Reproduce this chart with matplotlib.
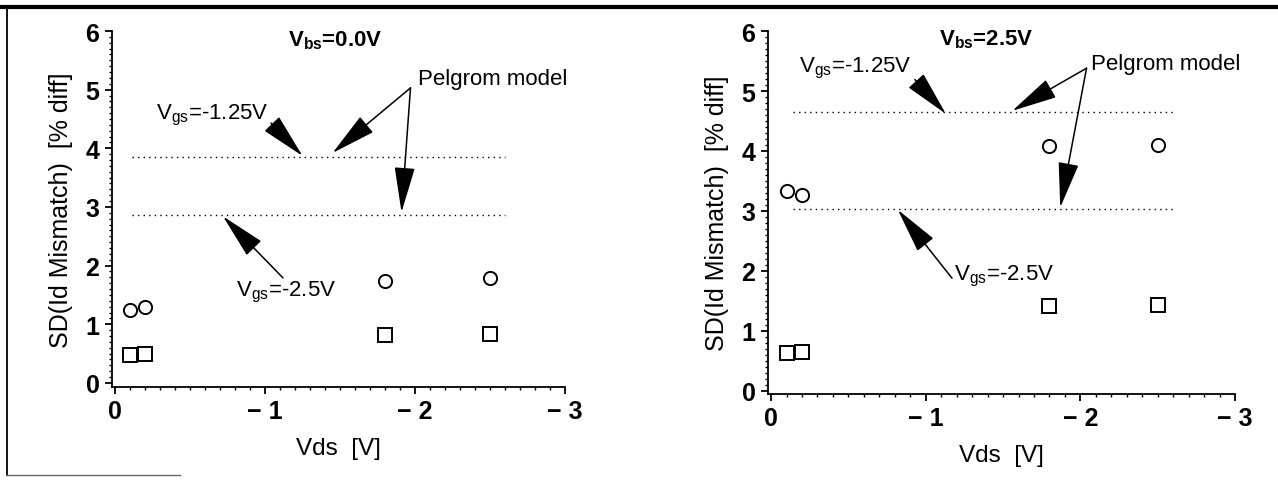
import numpy as np
import matplotlib.pyplot as plt
from matplotlib.lines import Line2D
from matplotlib.ticker import MultipleLocator

plt.rcParams['font.family'] = ['Liberation Sans', 'DejaVu Sans']
plt.rcParams['mathtext.fontset'] = 'custom'
plt.rcParams['mathtext.rm'] = 'Liberation Sans'
plt.rcParams['mathtext.bf'] = 'Liberation Sans:bold'

# Input data
vds = [-0.1, -0.2, -1.8, -2.5]

# Vbs = 0.0 V
circ_0 = [1.25, 1.30, 1.74, 1.78]
sq_0 = [0.47, 0.49, 0.82, 0.83]
pelgrom_0 = [3.85, 2.87]        # Vgs=-1.25V, Vgs=-2.5V
line_x_0 = [-0.11, -2.60]

# Vbs = 2.5 V
circ_25 = [3.33, 3.26, 4.08, 4.10]
sq_25 = [0.64, 0.65, 1.42, 1.44]
pelgrom_25 = [4.65, 3.03]
line_x_25 = [-0.14, -2.61]

panels = [
    dict(rect=[112/1278, 93/481, 453/1278, 356/481], ylim=(-0.07, 6.0),
         circ=circ_0, sq=sq_0, lines=pelgrom_0, lx=line_x_0,
         title='$\\mathbf{V_{bs}}$=0.0V', title_xy=(-1.47, 5.85),
         pel_xy=(-2.02, 5.19), pel_from=(-1.97, 5.03),
         pel_to=[(-1.45, 3.92), (-1.91, 2.91)],
         v1_xy=(-0.27, 4.57), v1_arrow=((-1.04, 4.43), (-1.25, 3.87)),
         v2_xy=(-0.81, 1.56), v2_arrow=((-1.12, 1.79), (-0.72, 2.84))),
    dict(rect=[768/1278, 86/481, 467/1278, 363/481], ylim=(-0.05, 6.0),
         circ=circ_25, sq=sq_25, lines=pelgrom_25, lx=line_x_25,
         title='$\\mathbf{V_{bs}}$=2.5V', title_xy=(-1.39, 5.87),
         pel_xy=(-2.07, 5.46), pel_from=(-2.04, 5.38),
         pel_to=[(-1.56, 4.67), (-1.87, 3.06)],
         v1_xy=(-0.18, 5.40), v1_arrow=((-0.93, 5.19), (-1.13, 4.62)),
         v2_xy=(-1.18, 1.93), v2_arrow=((-1.17, 1.88), (-0.82, 3.02))),
]

fig = plt.figure(figsize=(12.78, 4.81), dpi=100)

arrow = dict(arrowstyle='-|>,head_length=1.6,head_width=0.36', color='black',
             lw=1.1, mutation_scale=18, shrinkA=0, shrinkB=0)

for p in panels:
    ax = fig.add_axes(p['rect'])
    ax.plot(vds, p['circ'], 'o', ms=9.5, mfc='none', mec='black', mew=1.4)
    ax.plot(vds, p['sq'], 's', ms=9.5, mfc='none', mec='black', mew=1.4)
    for yv in p['lines']:
        ax.plot(p['lx'], [yv, yv], color='black', ls=(0, (1, 3)), lw=1.0)

    ax.set_xlim(0.02, -3.0)
    ax.set_ylim(*p['ylim'])
    ax.spines['top'].set_visible(False)
    ax.spines['right'].set_visible(False)
    ax.spines['left'].set_linewidth(1.3)
    ax.spines['bottom'].set_linewidth(1.3)
    ax.xaxis.set_major_locator(MultipleLocator(1))
    ax.xaxis.set_minor_locator(MultipleLocator(0.1))
    ax.yaxis.set_major_locator(MultipleLocator(1))
    ax.yaxis.set_minor_locator(MultipleLocator(0.1))
    ax.tick_params(which='major', direction='out', length=5, width=1.3,
                   labelsize=18, pad=4)
    ax.tick_params(which='minor', direction='out', length=2.5, width=1.0)
    ax.set_xticks([0, -1, -2, -3])
    ax.set_xticklabels(['0', '\u2212 1', '\u2212 2', '\u2212 3'])
    for lab in ax.get_xticklabels() + ax.get_yticklabels():
        lab.set_fontweight('bold')
    ax.set_xlabel('Vds  [V]', fontsize=17.5, labelpad=10)
    ax.set_ylabel('SD(Id Mismatch)  [% diff]', fontsize=18, labelpad=9)

    ax.text(*p['title_xy'], p['title'], fontsize=16, fontweight='bold',
            ha='center', va='center')
    ax.text(*p['pel_xy'], 'Pelgrom model', fontsize=16, ha='left', va='center')
    for tgt in p['pel_to']:
        ax.annotate('', xy=tgt, xytext=p['pel_from'], arrowprops=arrow)
    ax.text(*p['v1_xy'], '$\\mathrm{V_{gs}}$=-1.25V', fontsize=16,
            ha='left', va='center')
    ax.annotate('', xy=p['v1_arrow'][1], xytext=p['v1_arrow'][0], arrowprops=arrow)
    ax.text(*p['v2_xy'], '$\\mathrm{V_{gs}}$=-2.5V', fontsize=16,
            ha='left', va='center')
    ax.annotate('', xy=p['v2_arrow'][1], xytext=p['v2_arrow'][0], arrowprops=arrow)

# scanned page frame
fig.add_artist(Line2D([0, 1], [1 - 8/481, 1 - 8/481], color='black', lw=3))
fig.add_artist(Line2D([7/1278, 7/1278], [1 - 8/481, 1 - 476/481], color='black', lw=1.3))
fig.add_artist(Line2D([7/1278, 180/1278], [1 - 476/481, 1 - 476/481], color='0.4', lw=1.0))

plt.savefig('out.png', dpi=100)
